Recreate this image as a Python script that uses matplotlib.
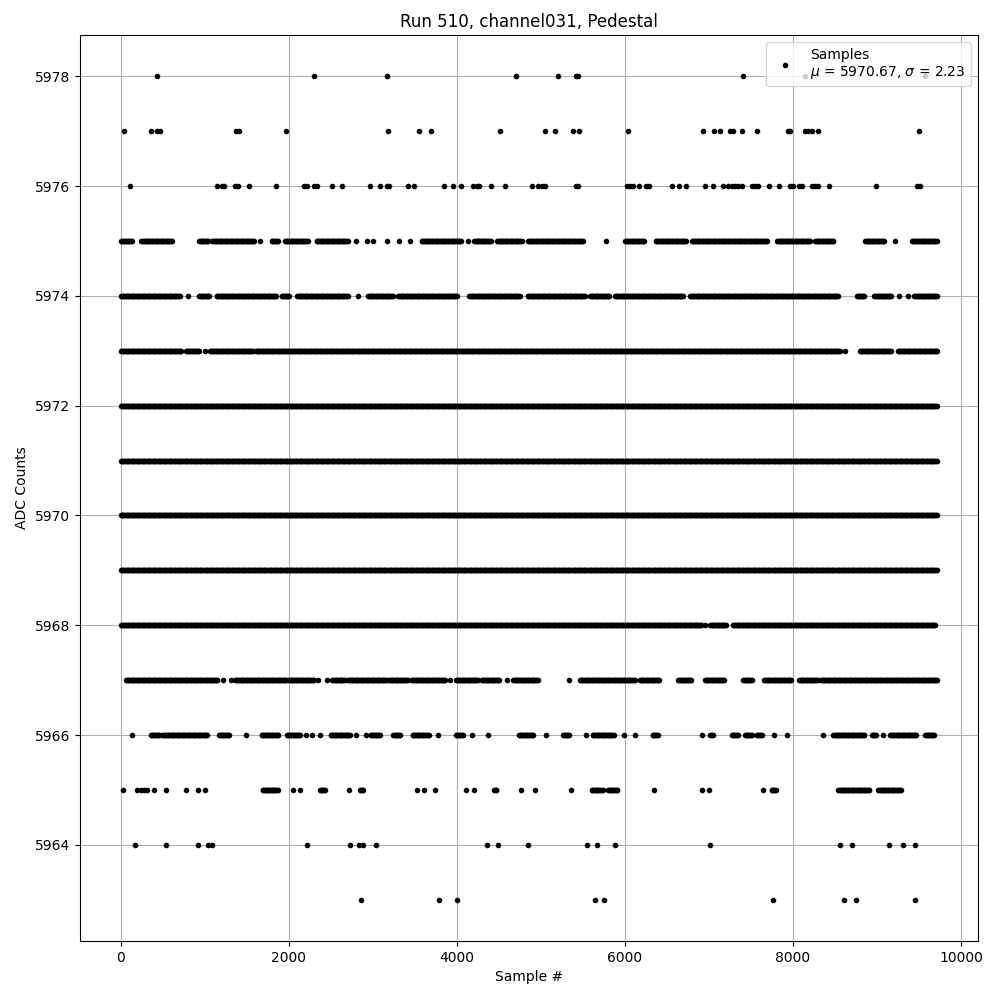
import numpy as np
import matplotlib
matplotlib.use('Agg')
import matplotlib.pyplot as plt

# Sample positions per ADC level.
# An int is a single sample, a (start, end) tuple is a run of samples
# that sit at that level closely enough to draw as a solid streak.
lvl_5978 = [432, 2301, 3170, 4706, 5202, 5413, 5444, 7408, 8143, 9571]
lvl_5977 = [39, 357, 432, 464, 1369, 1401, 1968, 3182, 3551, 3694, 4516,
            5051, 5170, 5381, 5452, 6039, 6932, 7063, 7131, 7250, 7290,
            7389, 7575, 7937, 7968, 8143, 8175, 8230, 8301, 9504]
lvl_5976 = [111, 1143, 1199, 1226, 1357, 1397, 1527, 1849, 2179, 2211,
            2301, 2337, 2516, 2635, 2968, 3087, 3163, 3187, 3420, 3491,
            3848, 3955, 4051, 4194, 4241, 4265, 4408, 4575, 4897, 4968,
            5008, 5048, 5413, 5444, 6020, 6059, 6099, 6170, 6246, 6285,
            6563, 6643, 6722, 6956, 7051, 7170, 7230, 7270, 7309, 7349,
            7389, 7508, 7547, 7587, 7718, 7837, 7964, 8004, 8071, 8111,
            8222, 8262, 8301, 8428, 8991, 9472, 9511]
lvl_5975 = [(0, 134), (246, 615), (932, 1051), (1087, 1596), 1655,
            (1794, 1881), (1952, 2222), (2330, 2706), 2798, 2925, 3004,
            3170, 3313, 3440, (3579, 4051), 4135, (4206, 4413), (4480, 4770),
            (4849, 5504), 5774, (6000, 6238), (6365, 6734), (6794, 7694),
            (7813, 8210), (8262, 8488), (8857, 9087), 9214, (9413, 9719)]
lvl_5974 = [(0, 702), 801, (932, 1060), (1139, 1853), (1913, 2012),
            (2099, 2706), 2825, (2944, 3242), (3301, 4008), (4147, 4750),
            (4841, 5524), (5583, 5821), (5881, 6694), (6774, 8540),
            (8758, 8857), (8968, 9175), 9266, 9373, (9444, 9719)]
lvl_5973 = [(0, 722), (774, 940), 1000, (1060, 1572), (1607, 8560), 8619,
            (8797, 9175), (9246, 9719)]
lvl_5972 = [(0, 9719)]
lvl_5971 = [(0, 9719)]
lvl_5970 = [(0, 9719)]
lvl_5969 = [(0, 9719)]
lvl_5968 = [(0, 6913), 6952, (7012, 7210), (7290, 9690)]
lvl_5967 = [(60, 1159), 1218, 1306, (1357, 1972), (1992, 2309), 2349, 2449,
            (2516, 2666), (2706, 3163), (3182, 3420), (3460, 3868), 3917,
            (3988, 4254), (4294, 4504), 4599, (4671, 4961), 5337,
            (5464, 6119), (6178, 6417), (6635, 6794), (6952, 7190),
            (7409, 7516), (7658, 7984), (8072, 8293), (8333, 9719)]
lvl_5966 = [139, (357, 464), (496, 1032), (1170, 1298), 1488, (1675, 1881),
            (1980, 2131), 2206, 2278, 2369, (2496, 2726), 2798, 2913,
            (2972, 3087), (3242, 3329), (3472, 3670), 3774, (3988, 4075),
            4175, 4373, (4738, 4909), 5056, (5266, 5345), 5536,
            (5615, 5873), 5992, 6119, (6329, 6389), 6913, (7012, 7051),
            (7270, 7349), (7428, 7508), (7567, 7627), 7778, 7925, 8361,
            (8480, 8857), (8937, 8996), 9075, (9155, 9472), (9571, 9690)]
lvl_5965 = [28, 194, 246, 274, 306, 393, 536, 774, 921, 1000, (1687, 1873),
            2052, 2131, (2369, 2429), 2718, (2845, 2885), 3528, 3611, 3742,
            4107, 4206, (4441, 4473), 4758, 4929, 5353, (5603, 5741),
            (5801, 5920), 6349, 6913, 7004, 7647, (7746, 7805),
            (8540, 8917), (9016, 9286)]
lvl_5964 = [170, 540, 921, 1040, 1091, 2218, 2730, 2829, 2885, 3040, 4361,
            4492, 4849, 5548, 5671, 5885, 7016, 8563, 8706, 9147, 9313, 9456]
lvl_5963 = [2853, 3790, 4004, 5647, 5754, 7766, 8611, 8754, 9456]

levels = [5978, 5977, 5976, 5975, 5974, 5973, 5972, 5971, 5970, 5969,
          5968, 5967, 5966, 5965, 5964, 5963]
level_samples = [lvl_5978, lvl_5977, lvl_5976, lvl_5975, lvl_5974, lvl_5973,
                 lvl_5972, lvl_5971, lvl_5970, lvl_5969, lvl_5968, lvl_5967,
                 lvl_5966, lvl_5965, lvl_5964, lvl_5963]

mean_adc = 5970.67
std_adc = 2.23

xs, ys = [], []
for lvl, items in zip(levels, level_samples):
    for it in items:
        if isinstance(it, tuple):
            run = np.arange(it[0], it[1] + 1, 10)
        else:
            run = np.array([it])
        xs.append(run)
        ys.append(np.full(len(run), lvl))
xs = np.concatenate(xs)
ys = np.concatenate(ys)

fig = plt.figure(figsize=(10, 10), dpi=100)
plt.plot(xs, ys, 'k.',
         label='Samples\n$\\mu$ = %.2f, $\\sigma$ = %.2f' % (mean_adc, std_adc))
plt.title('Run 510, channel031, Pedestal')
plt.xlabel('Sample #')
plt.ylabel('ADC Counts')
plt.grid(True)
plt.legend(loc='upper right')
plt.subplots_adjust(left=0.08, right=0.978, top=0.965, bottom=0.059)
plt.savefig('out.png')
